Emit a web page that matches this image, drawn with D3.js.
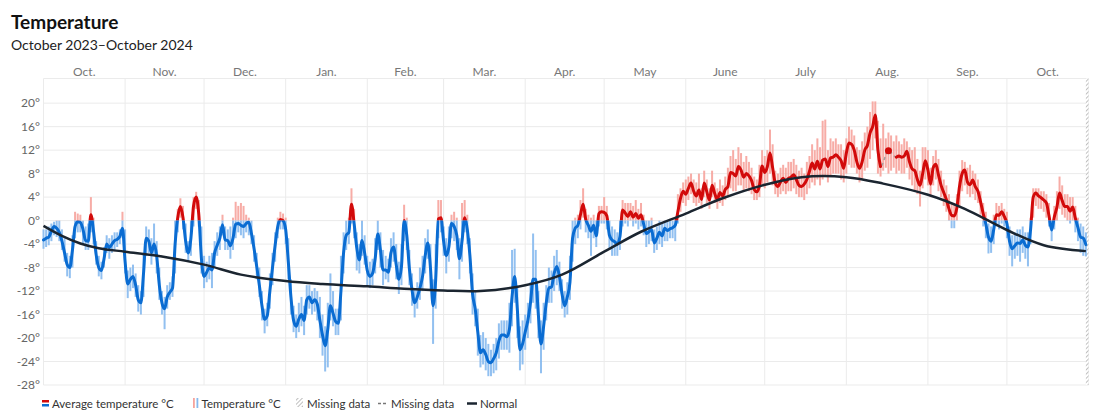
<!DOCTYPE html>
<html>
<head>
<meta charset="utf-8">
<script src="https://cdn.jsdelivr.net/npm/d3@7"></script>
<style>
  body { margin: 0; background: #fff; font-family: Lato, "Noto Sans", sans-serif; }
</style>
</head>
<body>
<svg id="chart" width="1112" height="410"></svg>
<script>
// daily values, first day 2023-10-01 (null = missing average)
const startDate = new Date(2023, 9, 1);

const avgTemp = [
  -3.3,-3.0,-2.8,-1.8,-1.0,-1.3,-2.0,-3.5,-5.5,-7.5,-8.0,-5.0,-1.0,-0.2,-0.3,-1.5,-3.4,-3.5,1.0,-1.8,-5.8,-8.0,-8.5,-6.5,-4.0,-4.6,-4.0,-3.4,-3.2,-2.7,-1.3, // oct
  -7.0,-10.8,-10.0,-9.5,-11.0,-13.5,-14.0,-9.0,-3.0,-3.5,-5.5,-4.0,-6.0,-11.0,-14.0,-15.0,-13.0,-12.2,-11.5,-4.0,0.5,2.4,0.5,-3.5,-5.5,-3.0,2.5,4.0,1.0,-6.5, // nov
  -9.5,-8.8,-8.0,-8.4,-5.5,-4.2,-3.0,-0.7,-3.3,-3.4,-4.3,-3.0,-0.6,-0.5,-0.8,-1.0,-0.5,-0.3,-2.2,-4.8,-7.8,-11.0,-14.5,-16.8,-16.2,-12.0,-8.0,-4.2,-1.0,0.2,0.0, // dec
  -1.5,-7.0,-13.0,-17.0,-18.0,-16.8,-16.0,-17.0,-13.5,-13.0,-14.0,-13.5,-14.2,-17.0,-19.5,-21.3,-18.5,-14.5,-15.8,-17.2,-17.5,-12.0,-5.5,-2.5,-2.0,2.8,-0.5,-4.6,-6.7,-3.4,-5.5, // jan
  -8.5,-9.5,-9.0,-6.5,-2.3,-5.0,-8.4,-8.4,-8.8,-5.5,-4.5,-7.5,-10.0,-7.8,0.0,-2.5,-8.2,-11.8,-14.0,-13.0,-11.5,-9.5,-6.0,-3.8,-8.0,-14.5,-10.0,0.3,0.5, // feb
  -3.5,-6.0,-4.5,-0.5,-1.0,-2.5,-6.5,-3.5,0.5,-1.5,-6.0,-12.5,-15.0,-19.0,-22.5,-22.0,-22.8,-24.0,-24.2,-23.5,-22.5,-20.5,-19.5,-19.5,-19.8,-18.5,-13.0,-9.5,-15.0,-22.0,-21.0, // mar
  -19.0,-17.0,-14.0,-10.0,-10.0,-16.0,-21.0,-18.0,-14.0,-11.5,-11.3,-9.0,-7.8,-9.5,-12.5,-14.5,-13.0,-10.5,-3.0,-1.3,-0.8,1.0,2.8,0.2,-0.8,-1.8,-0.8,-2.6,1.2,1.5, // apr
  1.4,0.8,-2.5,-3.3,-3.6,-4.0,-2.7,1.8,1.3,0.7,1.5,0.6,1.2,0.4,1.0,-0.6,-2.2,-1.9,-1.5,-3.8,-3.0,-2.0,-2.6,-1.3,-1.7,-1.4,-1.2,-0.8,1.5,3.8,5.0, // may
  4.5,5.5,6.4,5.0,4.2,5.2,3.6,6.4,4.9,3.5,6.0,4.6,3.6,4.8,4.2,5.3,5.8,8.2,8.0,7.6,9.2,8.6,7.4,8.0,7.6,6.8,5.3,4.9,6.0,9.3, // jun
  8.2,9.2,11.5,9.0,6.4,5.8,6.6,7.2,6.5,7.2,7.4,7.8,7.0,6.0,5.8,6.2,7.0,8.4,9.8,8.8,10.1,8.8,10.3,10.5,9.2,10.7,10.8,11.2,10.8,10.2,8.9, // jul
  11.5,13.2,13.0,12.0,10.0,8.9,10.0,12.0,12.8,14.9,16.0,18.0,12.0,9.2,null,null,11.9,null,null,10.8,11.0,10.8,11.0,11.8,10.0,8.8,8.5,7.0,6.0,8.0,10.2, // aug
  8.6,6.2,9.0,9.6,7.8,6.0,4.8,3.6,2.0,0.9,0.8,2.2,5.8,8.0,8.6,6.6,6.1,6.9,5.8,5.0,3.2,1.2,-0.6,-2.8,-3.5,-1.5,1.0,0.9,1.5,0.7, // sep
  -0.5,-3.5,-4.8,-4.3,-3.8,-3.9,-3.3,-4.2,-4.5,-1.5,4.0,4.7,4.2,3.9,3.5,3.0,0.8,-1.6,0.6,2.3,4.7,3.4,2.4,2.4,1.6,2.3,0.4,-1.2,-2.8,-3.0,-4.1 // oct
];

const minTemp = [
  -4.8,-4.5,-4.2,-3.5,-2.5,-2.8,-3.5,-5.0,-7.0,-9.5,-9.8,-8.0,-3.0,-2.0,-2.0,-4.0,-5.0,-5.0,-2.0,-4.0,-7.5,-9.5,-10.0,-8.0,-5.5,-6.5,-5.5,-5.0,-4.5,-4.0,-3.0,
  -9.0,-13.2,-12.0,-11.5,-13.0,-15.5,-16.0,-13.0,-6.0,-5.5,-7.5,-6.0,-9.0,-13.5,-16.0,-18.5,-15.0,-13.5,-13.0,-9.0,-2.0,0.5,-1.5,-5.5,-7.0,-6.0,-1.0,2.0,-1.0,-9.0,
  -11.5,-10.5,-10.0,-11.5,-8.0,-6.0,-5.0,-2.5,-5.0,-5.0,-6.5,-5.0,-3.0,-2.0,-2.5,-3.0,-2.0,-2.5,-4.0,-7.0,-10.0,-13.0,-17.0,-19.2,-18.0,-15.0,-11.0,-7.0,-3.0,-1.5,-1.5,
  -4.0,-10.0,-16.0,-19.0,-20.0,-19.0,-18.0,-19.5,-16.0,-15.0,-16.0,-15.5,-17.0,-20.0,-23.0,-25.7,-25.0,-17.0,-18.0,-19.5,-19.5,-17.0,-9.0,-5.0,-4.0,-0.5,-3.0,-8.5,-9.0,-6.0,-7.5,
  -11.0,-11.5,-11.0,-9.0,-5.0,-8.0,-11.0,-10.0,-10.5,-8.0,-7.0,-10.0,-12.5,-11.0,-3.5,-5.0,-11.0,-14.5,-16.5,-15.0,-13.5,-12.0,-9.0,-6.5,-12.0,-21.0,-15.0,-3.0,-2.0,
  -6.0,-9.0,-7.0,-3.0,-3.5,-5.0,-10.0,-7.0,-2.0,-4.0,-9.0,-16.0,-18.0,-23.0,-25.0,-24.5,-25.5,-26.5,-26.5,-26.0,-25.5,-23.5,-22.0,-22.0,-22.0,-22.5,-18.0,-14.0,-20.0,-25.5,-24.5,
  -22.0,-20.0,-17.5,-14.0,-15.0,-20.0,-26.0,-22.0,-17.0,-14.0,-14.0,-12.0,-11.0,-12.0,-15.0,-16.5,-16.0,-13.5,-7.0,-4.0,-3.0,-1.5,0.5,-2.0,-3.0,-6.0,-3.0,-4.5,-1.0,-0.5,
  -0.5,-1.5,-5.0,-6.0,-6.0,-6.0,-5.0,-1.0,-0.5,-1.0,0.0,-1.0,-0.5,-1.5,-1.0,-2.5,-4.5,-4.0,-3.5,-5.5,-5.0,-4.0,-4.5,-3.5,-3.5,-3.0,-3.0,-3.5,-0.5,1.5,3.0,
  2.5,3.5,4.5,3.0,2.5,3.0,2.0,4.0,3.0,2.0,4.0,3.0,2.0,3.0,2.5,3.5,4.0,5.5,5.0,5.0,6.0,6.0,5.0,5.5,5.0,4.5,3.5,3.5,4.0,6.0,
  5.5,6.5,8.0,6.0,4.5,4.0,4.5,5.0,4.5,5.0,5.0,5.5,4.5,4.0,4.0,3.5,4.5,5.5,6.5,6.0,7.0,6.0,7.0,7.5,6.5,7.5,8.0,8.0,8.0,7.0,6.5,
  8.0,9.5,9.0,9.0,8.0,6.5,7.0,8.5,9.0,10.5,12.0,14.0,8.0,7.5,8.5,9.0,8.0,8.5,9.0,8.0,8.5,8.0,8.0,9.0,7.0,6.0,5.0,4.5,2.4,5.5,7.0,
  6.0,4.0,6.0,7.0,5.0,4.0,2.5,1.5,0.0,-1.3,-1.3,0.0,2.5,5.0,6.0,4.5,4.0,4.5,3.5,3.0,1.0,-1.0,-3.0,-5.6,-5.5,-4.0,-1.0,-1.5,-0.5,-1.0,
  -3.0,-6.0,-7.8,-6.5,-6.0,-7.0,-5.5,-6.5,-7.8,-4.0,0.5,2.5,2.0,2.0,1.5,0.5,-1.0,-3.5,-1.5,0.0,2.0,1.0,0.5,0.0,-0.5,0.0,-2.0,-3.5,-5.5,-6.0,-6.1
];

const maxTemp = [
  -1.5,-1.5,-1.0,-0.5,-0.2,0.0,0.0,-1.5,-3.0,-5.5,-6.0,-2.5,1.5,1.2,1.0,0.0,-1.0,-0.5,4.0,0.5,-3.5,-6.0,-7.0,-4.5,-2.5,-3.0,-2.5,-2.0,-2.0,-1.5,1.5,
  -1.5,-8.5,-8.0,-7.5,-9.0,-11.0,-12.0,-5.5,-1.0,-1.5,-3.0,-0.5,-3.5,-8.0,-12.0,-13.0,-11.0,-10.5,-9.5,0.0,2.0,3.8,2.5,-0.5,-3.5,0.0,4.0,4.9,3.5,-1.0,
  -6.0,-7.0,-6.0,-5.5,-3.5,-2.0,-1.0,1.0,-1.0,-1.5,-1.0,0.5,3.2,2.5,3.0,2.5,1.0,0.5,0.0,-2.5,-5.5,-8.0,-12.0,-15.0,-14.0,-9.0,-5.5,-2.0,0.5,1.5,1.2,
  0.5,-3.0,-10.0,-14.5,-16.0,-14.0,-13.0,-14.5,-11.0,-11.0,-12.0,-11.5,-12.0,-13.0,-16.0,-18.0,-14.0,-9.0,-12.0,-15.0,-15.0,-6.0,-2.0,0.0,0.5,5.5,2.0,-2.0,-4.0,0.0,-2.5,
  -6.0,-7.0,-6.5,-3.0,0.0,-2.0,-5.0,-6.0,-6.5,-3.0,-2.0,-4.0,-7.0,-4.0,2.7,0.5,-5.0,-9.0,-11.5,-10.5,-8.0,-6.0,-3.0,-1.5,-4.0,-10.0,-4.0,3.5,3.5,
  -1.0,-3.0,-1.0,1.0,1.5,0.5,-3.0,3.0,3.5,1.0,-3.0,-9.0,-12.0,-15.0,-19.5,-19.0,-20.0,-21.0,-22.0,-21.0,-20.0,-17.5,-17.0,-17.0,-17.0,-14.0,-5.0,-4.8,-11.0,-18.0,-17.0,
  -16.0,-14.0,-10.5,-2.2,-5.0,-12.0,-17.0,-14.0,-11.0,-8.0,-8.5,-6.0,-5.0,-7.0,-10.0,-12.0,-10.5,-6.0,0.0,0.5,1.0,3.5,5.5,2.0,1.0,0.5,1.0,0.0,2.5,2.5,
  4.0,2.5,0.0,-1.0,-1.5,-2.0,0.0,3.5,3.0,3.0,3.0,2.5,3.5,2.0,3.0,1.0,0.0,0.0,0.5,-1.5,-1.0,0.0,-0.5,0.0,0.0,0.0,0.0,0.5,4.5,5.5,6.5,
  7.0,7.5,8.0,7.0,6.5,8.0,5.5,8.5,7.0,5.5,8.5,6.5,5.5,7.0,6.0,7.5,9.0,11.0,12.0,10.5,12.5,11.5,10.0,11.0,10.0,9.0,7.5,7.0,9.5,12.0,
  11.0,12.0,15.5,13.0,8.5,8.0,9.0,9.5,9.0,10.0,10.0,10.5,9.5,8.5,9.0,8.0,10.0,11.0,13.0,12.0,14.0,12.5,17.0,17.2,12.0,14.0,13.5,14.0,13.0,13.0,12.0,
  14.0,16.0,15.5,14.5,12.5,12.0,13.5,15.0,16.0,18.5,20.3,20.3,17.0,14.0,16.5,14.0,15.0,14.5,13.5,14.5,13.5,13.0,14.0,13.5,12.5,12.0,12.5,10.5,8.5,12.5,12.5,
  12.0,9.0,11.0,12.0,10.5,8.5,7.0,6.0,4.5,3.0,3.0,4.5,8.5,10.3,10.0,9.0,9.5,8.5,8.0,7.0,5.0,3.0,1.5,-0.5,-1.0,1.0,3.0,2.5,3.0,2.0,
  1.5,-1.0,-2.5,-2.0,-1.5,-1.5,-1.0,-2.0,-2.0,0.5,5.5,5.5,5.5,5.0,5.0,4.5,3.0,0.0,2.5,5.0,7.5,6.0,4.5,4.5,4.0,4.0,2.5,0.5,-0.5,-1.0,-2.0
];

// normal curve, read at a few dates
const normalDates = ["2023-10-01","2023-10-08","2023-10-15","2023-10-22","2023-11-01","2023-11-15","2023-12-01","2023-12-15",
  "2024-01-01","2024-01-15","2024-02-01","2024-02-15","2024-03-01","2024-03-15","2024-04-01","2024-04-15","2024-05-01","2024-05-15",
  "2024-06-01","2024-06-15","2024-07-01","2024-07-15","2024-08-01","2024-08-15","2024-09-01","2024-09-15","2024-10-01","2024-10-15","2024-10-31"];
const normalValues = [-0.9,-2.6,-3.9,-4.7,-5.3,-6.1,-7.5,-9.2,
  -10.3,-10.8,-11.2,-11.6,-11.9,-12.0,-11.0,-9.2,-5.3,-1.9,
  1.2,3.8,6.1,7.4,7.4,6.3,4.4,2.0,-1.6,-4.2,-5.2];

const missingRanges = [["2024-10-31", "2024-11-01"]];

const yTicks = [20, 16, 12, 8, 4, 0, -4, -8, -12, -16, -20, -24, -28];
const monthLabels = ["Oct.", "Nov.", "Dec.", "Jan.", "Feb.", "Mar.", "Apr.", "May", "June", "July", "Aug.", "Sep.", "Oct."];
const legendLabels = ["Average temperature °C", "Temperature °C", "Missing data", "Missing data", "Normal"];

const blueLine = "#0a6cd2", redLine = "#d20a0a";
const blueBar = "#86b9ee", redBar = "#f6a39c";

const svg = d3.select("#chart");
const parse = d3.timeParse("%Y-%m-%d");

const x = d3.scaleTime()
    .domain([startDate, new Date(2024, 10, 1)])
    .range([43.5, 1088.5]);
const y = d3.scaleLinear()
    .domain([-28, 24.2])
    .range([385, 78.5]);

const days = avgTemp.map((v, i) => ({
    date: d3.timeDay.offset(startDate, i),
    avg: v,
    lo: minTemp[i],
    hi: maxTemp[i]
}));

// titles
svg.append("text").attr("x", 11).attr("y", 29)
    .attr("font-size", 19).attr("font-weight", 700).attr("fill", "#111")
    .text("Temperature");
svg.append("text").attr("x", 11).attr("y", 50)
    .attr("font-size", 14).attr("fill", "#222")
    .text("October 2023–October 2024");

// hatch pattern
const defs = svg.append("defs");
const pat = defs.append("pattern").attr("id", "hatch")
    .attr("patternUnits", "userSpaceOnUse").attr("width", 3).attr("height", 3)
    .attr("patternTransform", "rotate(45)");
pat.append("rect").attr("width", 3).attr("height", 3).attr("fill", "#fff");
pat.append("line").attr("x1", 0).attr("y1", 0).attr("x2", 0).attr("y2", 3)
    .attr("stroke", "#aaa").attr("stroke-width", 1.5);

const y0 = y(0);
defs.append("clipPath").attr("id", "above")
    .append("rect").attr("x", 0).attr("y", 0).attr("width", 1112).attr("height", y0);
defs.append("clipPath").attr("id", "below")
    .append("rect").attr("x", 0).attr("y", y0).attr("width", 1112).attr("height", 410 - y0);

// grid
const months = d3.timeMonth.range(startDate, new Date(2024, 10, 2));
svg.append("g").selectAll("line").data(yTicks.concat([24.2])).join("line")
    .attr("x1", x.range()[0]).attr("x2", x.range()[1])
    .attr("y1", d => y(d)).attr("y2", d => y(d))
    .attr("stroke", "#ebebeb").attr("stroke-width", 1);
svg.append("g").selectAll("line").data(months).join("line")
    .attr("x1", d => x(d)).attr("x2", d => x(d))
    .attr("y1", y(24.2)).attr("y2", y(-28))
    .attr("stroke", "#ebebeb").attr("stroke-width", 1);

// y labels
svg.append("g").selectAll("text").data(yTicks).join("text")
    .attr("x", 40).attr("y", d => y(d)).attr("dy", "0.35em")
    .attr("text-anchor", "end").attr("font-size", 12).attr("fill", "#666")
    .text(d => d + "°");

// month labels
svg.append("g").selectAll("text").data(months.slice(0, 13)).join("text")
    .attr("x", d => (x(d) + x(d3.timeMonth.offset(d, 1))) / 2)
    .attr("y", 76).attr("text-anchor", "middle")
    .attr("font-size", 12).attr("fill", "#777")
    .text((d, i) => monthLabels[i]);

// missing data strip
svg.append("g").selectAll("rect").data(missingRanges).join("rect")
    .attr("x", d => x(parse(d[0]))).attr("width", d => x(parse(d[1])) - x(parse(d[0])))
    .attr("y", y(24.2)).attr("height", y(-28) - y(24.2))
    .attr("fill", "url(#hatch)");

// range bars
[["above", redBar], ["below", blueBar]].forEach(([clip, col]) => {
    svg.append("g").attr("clip-path", `url(#${clip})`)
        .selectAll("rect").data(days).join("rect")
        .attr("x", d => x(d.date) - 1).attr("width", 2)
        .attr("y", d => y(d.hi)).attr("height", d => y(d.lo) - y(d.hi))
        .attr("fill", col).attr("opacity", 0.9);
});

// normal
const normalLine = d3.line()
    .x((d, i) => x(parse(d)))
    .y((d, i) => y(normalValues[i]))
    .curve(d3.curveCatmullRom.alpha(0.5));

// average, dashed where missing
const avgLine = d3.line()
    .defined(d => d.avg != null)
    .x(d => x(d.date)).y(d => y(d.avg))
    .curve(d3.curveMonotoneX);
const present = days.filter(d => d.avg != null);

svg.append("path").datum(present)
    .attr("d", avgLine).attr("fill", "none")
    .attr("stroke", "#a0a0a0").attr("stroke-width", 1.5).attr("stroke-dasharray", "3,3");

[["above", redLine], ["below", blueLine]].forEach(([clip, col]) => {
    const g = svg.append("g").attr("clip-path", `url(#${clip})`);
    g.append("path").datum(days)
        .attr("d", avgLine).attr("fill", "none")
        .attr("stroke", col).attr("stroke-width", 3)
        .attr("stroke-linejoin", "round").attr("stroke-linecap", "round");
});

// lone days between gaps
const lone = days.filter((d, i) => d.avg != null &&
    (i > 0 && days[i - 1].avg == null) && (i < days.length - 1 && days[i + 1].avg == null));
svg.append("g").selectAll("circle").data(lone).join("circle")
    .attr("cx", d => x(d.date)).attr("cy", d => y(d.avg)).attr("r", 3.5)
    .attr("fill", d => d.avg >= 0 ? redLine : blueLine);

svg.append("path").datum(normalDates)
    .attr("d", normalLine).attr("fill", "none")
    .attr("stroke", "#1b2530").attr("stroke-width", 2.5);

// legend
const legendX = [42, 193, 296, 378, 467];
const legendIcons = [
    g => {
        g.append("rect").attr("x", 0).attr("y", -8).attr("width", 7).attr("height", 2.5).attr("fill", redLine);
        g.append("rect").attr("x", 0).attr("y", -4).attr("width", 7).attr("height", 2.5).attr("fill", blueLine);
        return 7;
    },
    g => {
        g.append("rect").attr("x", 0).attr("y", -10).attr("width", 1.8).attr("height", 10).attr("fill", redBar);
        g.append("rect").attr("x", 3.5).attr("y", -10).attr("width", 1.8).attr("height", 10).attr("fill", blueBar);
        return 5.5;
    },
    g => {
        g.append("rect").attr("x", 0).attr("y", -10).attr("width", 7).attr("height", 9).attr("fill", "url(#hatch)");
        return 8;
    },
    g => {
        g.append("line").attr("x1", 0).attr("x2", 10).attr("y1", -4.5).attr("y2", -4.5)
            .attr("stroke", "#777").attr("stroke-width", 1.5).attr("stroke-dasharray", "3,2");
        return 10;
    },
    g => {
        g.append("line").attr("x1", 0).attr("x2", 10).attr("y1", -4.5).attr("y2", -4.5)
            .attr("stroke", "#1b2530").attr("stroke-width", 2.5);
        return 10;
    }
];
const legend = svg.append("g").attr("transform", "translate(0,408)");
legendLabels.forEach((label, i) => {
    const g = legend.append("g").attr("transform", `translate(${legendX[i]},0)`);
    const w = legendIcons[i](g);
    g.append("text").attr("x", w + 3).attr("y", 0)
        .attr("font-size", 11.5).attr("fill", "#333").text(label);
});
</script>
</body>
</html>
